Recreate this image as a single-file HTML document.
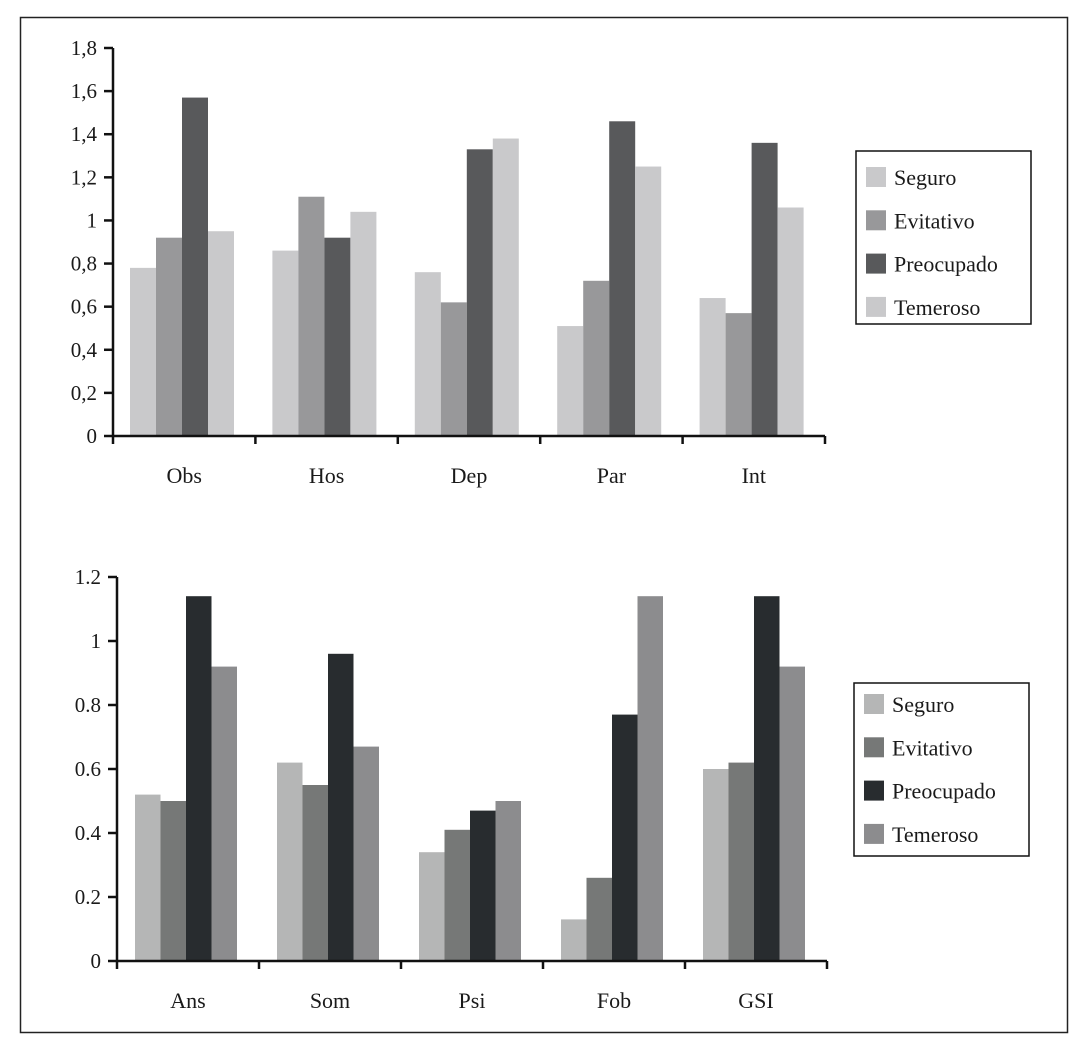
<!DOCTYPE html>
<html><head><meta charset="utf-8"><style>
html,body{margin:0;padding:0;background:#fff;}
svg text{font-family:"Liberation Serif",serif;fill:#1a1a1a;}
</style></head><body>
<svg width="1087" height="1050" viewBox="0 0 1087 1050" xmlns="http://www.w3.org/2000/svg">
<rect x="20.5" y="17.5" width="1047" height="1015" fill="none" stroke="#222" stroke-width="1.5"/>
<g id="top"></g>
<g id="bot"></g>
</svg>
<script>
const series = ["Seguro","Evitativo","Preocupado","Temeroso"];
const topCats = ["Obs","Hos","Dep","Par","Int"];
const topSeguro = [0.78,0.86,0.76,0.51,0.64];
const topEvitativo = [0.92,1.11,0.62,0.72,0.57];
const topPreocupado = [1.57,0.92,1.33,1.46,1.36];
const topTemeroso = [0.95,1.04,1.38,1.25,1.06];
const topTicks = ["0","0,2","0,4","0,6","0,8","1","1,2","1,4","1,6","1,8"];
const botCats = ["Ans","Som","Psi","Fob","GSI"];
const botSeguro = [0.52,0.62,0.34,0.13,0.60];
const botEvitativo = [0.50,0.55,0.41,0.26,0.62];
const botPreocupado = [1.14,0.96,0.47,0.77,1.14];
const botTemeroso = [0.92,0.67,0.50,1.14,0.92];
const botTicks = ["0","0.2","0.4","0.6","0.8","1","1.2"];
const NS="http://www.w3.org/2000/svg";
function mk(tag,attrs,parent){const e=document.createElementNS(NS,tag);for(const k in attrs)e.setAttribute(k,attrs[k]);parent.appendChild(e);return e;}
function chart(g,cfg){
  const y=v=>cfg.y0-(v/cfg.vmax)*(cfg.y0-cfg.y1);
  const catW=(cfg.x1-cfg.x0)/cfg.cats.length;
  cfg.vals.forEach((arr,si)=>{
    arr.forEach((v,ci)=>{
      const bx=cfg.x0+ci*catW+cfg.off+si*cfg.bw;
      const r=mk('rect',{x:bx,y:y(v),width:cfg.bw,height:cfg.y0-y(v),fill:cfg.colors[si]},g);
      
      
    });
  });
  const ya=mk('line',{x1:cfg.x0,y1:cfg.y1,x2:cfg.x0,y2:cfg.y0,stroke:'#111','stroke-width':2.5},g);
  
  
  const xa=mk('line',{x1:cfg.x0,y1:cfg.y0,x2:cfg.x1,y2:cfg.y0,stroke:'#111','stroke-width':2.5},g);
  
  
  cfg.ticks.forEach((t,i)=>{
    const v=parseFloat(t.replace(',','.')), ty=y(v);
    mk('line',{x1:cfg.x0-9,y1:ty,x2:cfg.x0,y2:ty,stroke:'#111','stroke-width':2.5},g);
    const tx=mk('text',{x:cfg.x0-16,y:ty+7,'text-anchor':'end','font-size':21},g);
    tx.textContent=t;
    
    
  });
  for(let i=0;i<=cfg.cats.length;i++){
    const tx=cfg.x0+i*catW;
    mk('line',{x1:tx,y1:cfg.y0,x2:tx,y2:cfg.y0+8,stroke:'#111','stroke-width':2.5},g);
  }
  cfg.cats.forEach((c,i)=>{
    const t=mk('text',{x:cfg.x0+(i+0.5)*catW,y:cfg.y0+47,'text-anchor':'middle','font-size':22},g);
    t.textContent=c;
    
    
  });
  const lg=mk('g',{},g);
  
  
  mk('rect',{x:cfg.lx,y:cfg.ly,width:175,height:173,fill:'#fff',stroke:'#111','stroke-width':1.5},lg);
  series.forEach((s,i)=>{
    const ey=cfg.ly+cfg.lfirst+i*43.3;
    mk('rect',{x:cfg.lx+10,y:ey-10,width:20,height:20,fill:cfg.colors[i]},lg);
    const t=mk('text',{x:cfg.lx+38,y:ey+8,'font-size':22},lg);
    t.textContent=s;
    
    
  });
}
chart(document.getElementById('top'),{cats:topCats,vals:[topSeguro,topEvitativo,topPreocupado,topTemeroso],ticks:topTicks,vmax:1.8,
  x0:113,x1:825,y0:436,y1:48,off:17,bw:26,colors:['#c9c9cb','#98989a','#58595b','#c9c9cb'],lx:856,ly:151,lfirst:26});
chart(document.getElementById('bot'),{cats:botCats,vals:[botSeguro,botEvitativo,botPreocupado,botTemeroso],ticks:botTicks,vmax:1.2,
  x0:117,x1:827,y0:961,y1:577,off:18,bw:25.5,colors:['#b5b6b6','#767877','#282c2f','#8c8c8e'],lx:854,ly:683,lfirst:21});
</script>
</body></html>
